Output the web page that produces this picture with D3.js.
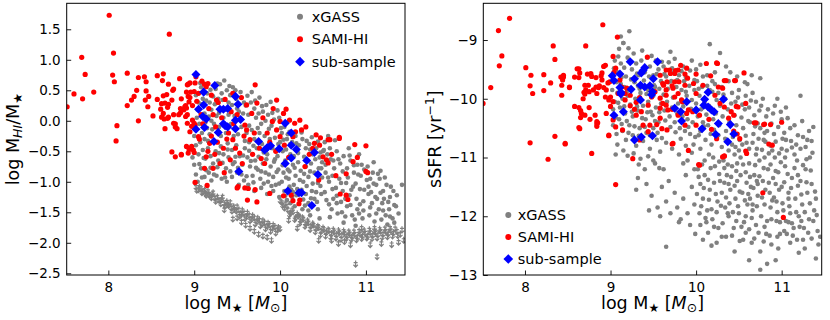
<!DOCTYPE html>
<html><head><meta charset="utf-8">
<script src="https://cdn.jsdelivr.net/npm/d3@7"></script>
<style>body{margin:0;background:#fff}text{font-family:"DejaVu Sans",sans-serif;fill:#000}</style>
</head><body><svg id="c" width="830" height="320"></svg>
<script>
const xTicks = [8, 9, 10, 11];
const gasTicks = [1.5, 1.0, 0.5, 0.0, -0.5, -1.0, -1.5, -2.0, -2.5];
const ssfrTicks = [-9, -10, -11, -12, -13];
const legendLabels = ["xGASS", "SAMI-HI", "sub-sample"];

// xGASS HI detections: [log M*, log MHI/M*]
const xgassGasDet = [
[9.02,0.42],[9.05,0.30],[9.08,0.55],[9.10,0.36],[9.12,0.12],[9.15,0.45],[9.18,0.30],[9.20,0.18],[9.22,0.40],[9.25,0.52],[9.28,0.36],[9.30,0.60],[9.32,0.45],[9.35,0.66],[9.38,0.50],[9.40,0.30],[9.42,0.42],[9.45,0.55],[9.48,0.50],[9.50,0.20],
[9.03,0.05],[9.06,-0.05],[9.09,-0.20],[9.12,-0.30],[9.15,-0.12],[9.18,-0.22],[9.20,0.00],[9.23,-0.05],[9.26,0.08],[9.29,-0.10],[9.31,-0.25],[9.34,0.05],[9.37,-0.20],[9.40,0.10],[9.43,-0.05],[9.46,-0.25],[9.49,-0.40],[9.52,0.15],[9.55,-0.10],[9.58,0.30],
[9.02,-0.40],[9.05,-0.55],[9.07,-0.35],[9.10,-0.48],[9.13,-0.62],[9.16,-0.45],[9.19,-0.58],[9.22,-0.70],[9.25,-0.50],[9.28,-0.65],[9.31,-0.42],[9.34,-0.55],[9.37,-0.78],[9.40,-0.60],[9.44,-0.48],[9.47,-0.68],[9.50,-0.85],[9.53,-0.58],[9.56,-0.72],[9.59,-0.45],
[9.02,-0.88],[9.04,-1.00],[9.08,-0.78],[9.12,-0.92],[9.17,-0.85],[9.20,-0.98],[9.26,-0.90],[9.32,-0.95],[9.38,-1.00],[9.44,-0.92],[9.52,-1.05],[9.58,-0.98],[9.00,-0.25],[8.98,-0.60],[9.00,-0.72],
[9.60,0.25],[9.63,0.10],[9.66,0.30],[9.70,0.20],[9.72,0.05],[9.75,0.12],[9.78,-0.05],[9.80,0.15],[9.83,0.00],[9.86,0.10],[9.90,-0.08],[9.93,0.02],[9.96,-0.15],[9.99,0.05],
[9.61,-0.20],[9.64,-0.35],[9.67,-0.15],[9.70,-0.30],[9.73,-0.45],[9.76,-0.20],[9.79,-0.38],[9.82,-0.25],[9.85,-0.55],[9.88,-0.30],[9.91,-0.45],[9.94,-0.28],[9.97,-0.58],[10.00,-0.35],
[9.62,-0.60],[9.65,-0.75],[9.68,-0.90],[9.71,-0.65],[9.74,-0.80],[9.77,-0.95],[9.80,-0.70],[9.83,-0.85],[9.86,-1.00],[9.89,-0.75],[9.92,-0.92],[9.95,-1.05],[9.98,-0.80],
[9.63,-1.05],[9.70,-1.15],[9.78,-1.10],[9.85,-1.20],[9.92,-1.15],[9.99,-1.25],
[10.02,-0.20],[10.05,-0.10],[10.08,-0.30],[10.11,-0.18],[10.14,-0.35],[10.18,-0.25],[10.22,-0.40],[10.26,-0.30],[10.30,-0.45],[10.34,-0.38],[10.38,-0.55],[10.42,-0.45],[10.46,-0.60],[10.50,-0.50],
[10.03,-0.50],[10.06,-0.65],[10.09,-0.80],[10.12,-0.55],[10.15,-0.72],[10.18,-0.90],[10.21,-0.68],[10.24,-0.82],[10.27,-1.00],[10.30,-0.75],[10.33,-0.92],[10.36,-0.70],[10.40,-0.85],[10.44,-1.02],[10.48,-0.78],
[10.02,-1.00],[10.05,-1.15],[10.08,-1.30],[10.11,-1.08],[10.14,-1.25],[10.17,-1.40],[10.20,-1.12],[10.23,-1.30],[10.26,-1.45],[10.30,-1.20],[10.33,-1.35],[10.37,-1.15],[10.40,-1.28],[10.44,-1.45],[10.48,-1.20],
[10.04,-0.85],[10.10,-0.95],[10.16,-1.05],[10.22,-1.55],[10.35,-1.55],[10.46,-1.60],
[10.52,-0.35],[10.55,-0.55],[10.58,-0.45],[10.62,-0.65],[10.66,-0.50],[10.70,-0.70],[10.74,-0.58],[10.78,-0.78],[10.82,-0.65],[10.86,-0.85],[10.90,-0.72],[10.94,-0.90],[10.98,-0.80],
[10.53,-0.85],[10.57,-1.00],[10.61,-0.90],[10.65,-1.10],[10.69,-0.95],[10.73,-1.15],[10.77,-1.02],[10.81,-1.22],[10.85,-1.08],[10.89,-1.28],[10.93,-1.12],[10.97,-1.32],
[10.54,-1.30],[10.60,-1.45],[10.66,-1.35],[10.72,-1.50],[10.78,-1.40],[10.84,-1.55],[10.90,-1.45],[10.96,-1.60],
[10.56,-0.25],[10.64,-0.32],[10.80,-0.45],[10.92,-0.55],
[11.02,-0.75],[11.05,-0.95],[11.08,-0.85],[11.12,-1.05],[11.16,-0.95],[11.20,-1.15],[11.24,-1.05],[11.28,-1.25],[11.32,-1.15],
[11.03,-1.20],[11.07,-1.35],[11.11,-1.25],[11.15,-1.45],[11.19,-1.35],[11.23,-1.55],[11.27,-1.45],[11.31,-1.60],[11.35,-1.40],[11.42,-1.05],
[11.04,-1.55],[11.10,-1.65],[11.18,-1.62],[11.25,-1.70],
[9.04,0.18],[9.07,0.62],[9.09,0.27],[9.13,-0.03],[9.14,0.33],[9.17,0.07],[9.19,0.51],[9.21,-0.14],[9.24,0.27],[9.27,0.61],[9.29,0.13],[9.33,0.34],[9.36,0.18],[9.39,-0.37],[9.41,0.57],[9.44,0.26],[9.47,0.08],[9.49,0.36],[9.51,-0.22],[9.54,0.47],[9.57,0.12],[9.59,-0.33],[9.62,0.41],[9.64,-0.08],[9.67,0.47],[9.69,-0.41],[9.71,0.33],[9.74,-0.12],[9.76,0.38],[9.79,0.24],[9.81,-0.52],[9.84,0.26],[9.87,-0.13],[9.89,0.31],[9.91,0.13],[9.94,-0.63],[9.97,0.17],[9.98,-0.38],
[9.06,-0.71],[9.09,-0.93],[9.11,-0.61],[9.14,-0.81],[9.16,-0.33],[9.19,-0.77],[9.23,-0.88],[9.27,-0.76],[9.29,-0.53],[9.33,-0.69],[9.36,-0.93],[9.39,-0.47],[9.42,-0.83],[9.45,-0.71],[9.48,-0.59],[9.51,-0.77],[9.55,-0.88],[9.57,-0.57],[9.61,-0.91],[9.64,-0.49],[9.66,-0.66],[9.69,-1.01],[9.72,-0.77],[9.75,-0.59],[9.78,-0.83],[9.81,-1.03],[9.84,-0.63],[9.87,-0.88],[9.90,-1.07],[9.93,-0.67],[9.96,-0.84],[9.99,-1.03],
[10.01,-0.12],[10.04,-0.31],[10.07,-0.47],[10.09,-0.22],[10.12,-0.38],[10.16,-0.58],[10.19,-0.37],[10.21,-0.53],[10.25,-0.19],[10.28,-0.59],[10.31,-0.33],[10.35,-0.47],[10.37,-0.27],[10.41,-0.63],[10.44,-0.34],[10.47,-0.52],[10.49,-0.68],
[10.03,-0.73],[10.07,-0.93],[10.11,-0.83],[10.13,-1.13],[10.17,-0.77],[10.19,-1.22],[10.23,-0.97],[10.25,-1.13],[10.28,-0.87],[10.31,-1.07],[10.35,-0.83],[10.38,-1.03],[10.42,-1.17],[10.45,-0.78],[10.49,-0.93],[10.06,-1.23],[10.15,-1.17],[10.27,-1.29],[10.36,-1.27],[10.43,-1.33],[10.47,-1.07],[10.33,-1.47],[10.29,-1.39],[10.12,-1.35],
[10.51,-0.48],[10.53,-0.72],[10.56,-0.93],[10.59,-0.63],[10.61,-1.12],[10.63,-0.78],[10.66,-1.23],[10.68,-0.63],[10.71,-1.02],[10.73,-0.83],[10.76,-1.28],[10.79,-0.93],[10.81,-0.57],[10.83,-1.13],[10.86,-0.73],[10.88,-1.03],[10.91,-0.88],[10.93,-1.37],[10.95,-0.72],[10.98,-1.13],
[10.52,-1.17],[10.57,-1.37],[10.62,-1.28],[10.67,-1.52],[10.71,-1.33],[10.76,-1.57],[10.82,-1.38],[10.87,-1.62],[10.92,-1.52],[10.97,-1.47],[10.58,-1.58],[10.74,-1.67],[10.88,-1.72],
[11.01,-0.97],[11.03,-1.08],[11.06,-1.17],[11.09,-1.03],[11.13,-1.28],[11.14,-0.87],[11.17,-1.18],[11.21,-1.28],[11.22,-0.93],[11.26,-1.33],[11.29,-1.08],[11.33,-1.38],[11.36,-1.22],[11.38,-1.52],[11.05,-1.42],[11.12,-1.52],[11.20,-1.47],[11.28,-1.57],[11.33,-1.67],[11.09,-0.68],[11.17,-0.82]
];

// xGASS HI upper limits
const xgassGasLim = [
[9.02,-1.08],[9.05,-1.12],[9.08,-1.10],[9.10,-1.15],[9.13,-1.18],[9.16,-1.15],[9.18,-1.22],[9.21,-1.20],[9.24,-1.26],[9.27,-1.24],[9.30,-1.30],[9.32,-1.28],[9.35,-1.35],[9.38,-1.32],[9.40,-1.38],[9.43,-1.42],[9.46,-1.40],[9.49,-1.47],[9.52,-1.45],[9.55,-1.52],[9.58,-1.50],[9.61,-1.56],[9.64,-1.54],[9.67,-1.60],[9.70,-1.58],[9.73,-1.64],[9.76,-1.62],[9.79,-1.68],[9.82,-1.66],[9.85,-1.72],[9.88,-1.70],[9.91,-1.75],[9.94,-1.73],[9.97,-1.78],[10.00,-1.76],[9.60,-1.70],[9.70,-1.80],[9.80,-1.88],[9.35,-1.45],[9.50,-1.58],
[9.03,-1.13],[9.06,-1.08],[9.09,-1.17],[9.12,-1.13],[9.14,-1.21],[9.17,-1.19],[9.20,-1.25],[9.22,-1.17],[9.25,-1.31],[9.28,-1.29],[9.31,-1.35],[9.33,-1.24],[9.36,-1.39],[9.39,-1.36],[9.42,-1.33],[9.44,-1.47],[9.47,-1.44],[9.50,-1.40],[9.53,-1.55],[9.56,-1.46],[9.59,-1.59],[9.62,-1.50],[9.65,-1.63],[9.68,-1.55],[9.71,-1.68],[9.74,-1.59],[9.77,-1.71],[9.80,-1.63],[9.83,-1.76],[9.86,-1.67],[9.89,-1.80],[9.92,-1.70],[9.95,-1.83],[9.98,-1.74],[9.55,-1.65],[9.65,-1.75],[9.75,-1.85],[9.45,-1.60],[9.85,-1.90],
[10.00,-1.30],[10.03,-1.38],[10.06,-1.35],[10.09,-1.45],[10.12,-1.50],[10.15,-1.48],[10.18,-1.58],[10.21,-1.55],[10.24,-1.63],[10.27,-1.60],[10.30,-1.68],[10.33,-1.66],[10.36,-1.72],[10.39,-1.70],[10.42,-1.76],[10.45,-1.74],[10.48,-1.80],[10.51,-1.77],[10.54,-1.82],[10.57,-1.79],[10.60,-1.84],[10.63,-1.81],[10.66,-1.86],[10.69,-1.82],[10.72,-1.87],[10.75,-1.83],[10.78,-1.88],[10.81,-1.84],[10.84,-1.89],[10.87,-1.85],[10.90,-1.90],[10.93,-1.84],[10.96,-1.88],[10.99,-1.83],[11.02,-1.88],[11.05,-1.82],[11.08,-1.87],[11.11,-1.82],[11.14,-1.86],[11.17,-1.80],[11.20,-1.85],[11.23,-1.80],[11.26,-1.84],[11.29,-1.79],[11.32,-1.83],[11.36,-1.80],[11.40,-1.85],[11.44,-1.95],
[10.02,-1.33],[10.05,-1.42],[10.08,-1.39],[10.11,-1.53],[10.14,-1.45],[10.17,-1.61],[10.20,-1.52],[10.23,-1.67],[10.26,-1.58],[10.29,-1.72],[10.32,-1.63],[10.35,-1.77],[10.38,-1.68],[10.41,-1.81],[10.44,-1.72],[10.47,-1.86],[10.50,-1.75],[10.53,-1.88],[10.56,-1.78],[10.59,-1.90],[10.62,-1.78],[10.65,-1.91],[10.68,-1.79],[10.71,-1.93],[10.74,-1.80],[10.77,-1.92],[10.80,-1.81],[10.83,-1.93],[10.86,-1.81],[10.89,-1.94],[10.92,-1.80],[10.95,-1.92],[10.98,-1.79],[11.01,-1.91],[11.04,-1.78],[11.07,-1.92],[11.10,-1.79],[11.13,-1.91],[11.16,-1.77],[11.19,-1.90],[11.22,-1.76],[11.25,-1.89],[11.28,-1.75],[11.31,-1.88],[11.34,-1.76],[11.37,-1.87],[11.42,-1.78],[11.38,-1.98],[11.18,-2.00],[11.05,-2.02],[10.82,-2.02],[10.68,-2.00],
[10.20,-1.75],[10.45,-1.95],[10.60,-1.95],[10.75,-1.97],[10.88,-2.34],[11.13,-2.22],[11.30,-2.02],[10.95,-1.75],[11.10,-1.75],[10.10,-1.62],[9.90,-1.95]
];

// SAMI-HI: [log M*, log MHI/M*]
const samiGas = [
[8.01,1.73],[8.71,1.42],[8.06,1.11],[7.69,1.04],[7.73,0.76],[8.05,0.75],[8.07,0.64],[7.60,0.44],[7.70,0.36],[7.83,0.47],[7.52,0.23],[8.10,-0.08],[8.09,-0.33],
[8.22,0.78],[8.35,0.71],[8.42,0.72],[8.44,0.64],[8.33,0.50],[8.44,0.49],[8.30,0.40],[8.27,0.34],[8.47,0.40],[8.43,0.34],[8.22,0.25],[8.46,0.23],[8.35,0.00],[8.52,0.08],
[8.57,0.74],[8.64,0.77],[8.63,0.66],[8.70,0.60],[8.83,0.69],[8.57,0.35],[8.64,0.41],[8.68,0.43],[8.75,0.50],[8.62,0.28],[8.66,0.29],[8.70,0.27],[8.61,0.19],[8.64,0.12],[8.62,0.06],[8.65,0.03],[8.70,0.06],[8.66,-0.13],[8.76,0.10],[8.76,-0.04],[8.78,-0.10],[8.80,-0.13],[8.82,0.10],[8.84,0.20],[8.88,0.18],[8.90,0.25],[8.94,0.31],[8.93,0.40],[8.96,0.47],[8.92,0.59],[8.95,0.62],[8.90,0.07],[8.92,-0.04],[8.98,0.01],[8.78,-0.59],[8.85,-0.55],[8.74,-0.51],
[8.76,0.52],[9.02,0.72],[9.09,0.65],[9.12,0.60],[9.01,0.62],[9.14,0.56],[9.00,0.48],[8.91,0.47],[8.85,0.36],[8.95,0.38],[9.03,0.32],[8.98,0.25],[8.74,0.34],[8.69,0.22],[8.91,0.21],[8.84,0.13],[8.69,0.04],[8.78,-0.05],[8.97,-0.09],[9.00,-0.04],
[8.97,-0.42],[8.94,-0.47],[9.00,-0.52],[8.93,-0.53],[9.01,-1.01],[9.15,-1.06],
[8.93,0.60],[8.89,0.23],[8.92,0.10],[9.01,-0.07],[8.95,-0.18],[9.05,-0.26],[8.91,-0.42],[8.99,-0.48],[8.85,-0.56],
[9.16,0.61],[9.20,0.42],[9.26,0.34],[9.45,0.45],[9.61,0.26],[9.71,0.59],[9.73,0.29],[9.67,0.12],[9.59,-0.07],[9.61,-0.15],[9.65,-0.31],[9.45,-0.31],[9.18,-0.37],[9.34,-0.45],[9.53,-0.53],[9.42,-0.64],[9.30,-0.70],[9.12,-0.78],[9.96,0.34],[9.91,-0.01],[10.00,-0.01],[10.11,0.01],[10.17,-0.04],[10.23,0.01],[10.25,-0.15],[10.15,-0.26],[10.42,-0.23],[10.46,-0.40],[10.56,-0.31],[10.69,-0.29],[10.38,-0.45],[10.50,-0.59],[10.54,-0.64],[10.29,-0.75],[10.85,-0.67],[11.00,-0.83],[10.77,-1.22],[10.23,-1.30],[10.13,-1.22],[9.88,-1.19],[9.71,-1.13],[9.63,-1.11],[9.51,-1.08],[9.73,-1.33],[9.22,-0.78],[9.14,-0.59],[9.82,-0.70],[10.00,-0.26],[9.96,-0.15],[10.04,0.12],[10.07,0.19],
[10.69,-0.27],[10.87,-0.39],[11.00,-0.41],[10.47,-0.28],[10.58,-0.31],[10.40,-0.37],[10.56,-0.69],[10.45,-0.97],[10.77,-0.87],[11.02,-0.85],[10.70,-1.20],[10.79,-1.29],[10.04,-1.23],[10.15,-1.31],[10.22,-1.36],[9.62,-1.30],[9.59,-1.10],[9.50,-1.10],
[9.05,0.45],[9.08,0.10],[9.10,-0.05],[9.17,0.20],[9.22,0.10],[9.25,-0.10],[9.28,0.30],[9.32,0.05],[9.36,0.35],[9.40,-0.20],[9.43,0.15],[9.46,-0.05],[9.50,0.10],[9.55,0.38],[9.58,-0.25],[9.20,-0.25],[9.06,-0.30],[9.27,-0.35],[9.38,-0.30],[9.16,-0.50],[9.24,-0.55],[9.48,-0.45],[9.56,-0.70],[9.35,-0.85],[9.70,-0.20],[9.76,-0.45],[9.80,0.05],[9.85,-0.20],[9.88,-0.35],[9.92,0.20],[9.68,-0.55],[9.78,-0.62],[9.95,-0.50],[10.05,-0.40],[10.10,-0.60],[10.18,-0.18],[10.30,-0.10],[10.34,-0.55],[10.60,-0.55],[10.65,-0.90],[10.90,-0.60]
];

// sub-sample: [log M*, log MHI/M*]
const subGas = [
[9.02,0.76],[9.11,0.47],[9.24,0.58],[9.05,0.19],[9.11,0.26],[9.10,0.07],[9.14,0.03],[9.02,-0.14],[9.12,-0.11],[9.23,-0.34],[9.28,-0.19],[9.30,0.19],[9.34,0.19],[9.39,0.20],[9.36,-0.08],[9.34,-0.05],[9.39,-0.10],[9.48,0.40],[9.51,0.27],[9.48,0.01],[9.48,-0.13],[9.54,0.02],[9.52,-0.83],[9.75,-0.34],[9.82,-0.48],[9.85,-0.44],[9.89,-0.41],[9.99,-0.46],[10.06,-0.04],[10.13,-0.20],[10.13,-0.40],[10.19,-0.47],[10.06,-0.70],[10.13,-0.61],[10.31,-0.65],[10.40,-0.52],[10.44,-0.88],[10.09,-1.15],[10.22,-1.18],[10.25,-1.18],[10.37,-1.39]
];

// xGASS: [log M*, sSFR]
const xgassSSFR = [
[9.05,-9.35],[9.08,-9.55],[9.10,-9.15],[9.12,-9.40],[9.15,-9.05],[9.18,-9.62],[9.20,-9.30],[9.22,-8.85],[9.25,-9.50],[9.28,-9.72],[9.30,-9.40],[9.33,-9.60],[9.36,-9.35],[9.40,-9.55],[9.43,-9.30],[9.46,-9.45],[9.50,-9.60],[9.53,-9.35],[9.56,-9.50],[9.59,-9.70],[9.12,-8.94],[9.15,-9.05],
[9.02,-9.85],[9.05,-10.05],[9.08,-9.90],[9.11,-10.15],[9.14,-10.00],[9.17,-10.25],[9.20,-9.95],[9.23,-10.10],[9.26,-10.30],[9.29,-10.00],[9.32,-10.20],[9.35,-9.90],[9.38,-10.12],[9.41,-10.35],[9.44,-10.05],[9.47,-10.22],[9.50,-9.95],[9.53,-10.15],[9.56,-10.40],[9.59,-10.08],
[9.03,-10.45],[9.07,-10.60],[9.10,-10.35],[9.14,-10.55],[9.18,-10.70],[9.22,-10.45],[9.26,-10.62],[9.30,-10.80],[9.34,-10.50],[9.38,-10.72],[9.42,-10.58],[9.46,-10.85],[9.50,-10.50],[9.54,-10.70],[9.58,-10.90],[9.06,-10.95],[9.12,-9.75],[9.16,-9.80],[9.24,-9.82],[9.32,-9.78],[9.44,-9.85],[9.52,-9.80],
[9.32,-11.35],[9.30,-11.55],[9.42,-11.45],[9.48,-11.65],[9.55,-11.85],[9.60,-11.50],[9.65,-11.75],[9.70,-11.95],[9.68,-11.40],[9.75,-11.60],[9.78,-11.85],[9.82,-12.05],[9.85,-11.70],[9.88,-11.30],[9.90,-11.95],[9.93,-12.15],[9.95,-11.50],[9.98,-11.80],[9.65,-12.52],[9.80,-12.10],[9.62,-11.20],[9.52,-11.10],[9.45,-11.90],[9.58,-12.00],[9.90,-11.05],[9.40,-11.20],[9.85,-11.10],[9.98,-11.20],
[9.62,-9.45],[9.65,-9.62],[9.68,-9.38],[9.71,-9.70],[9.74,-9.55],[9.77,-9.80],[9.80,-9.60],[9.83,-9.85],[9.86,-9.70],[9.89,-9.95],[9.92,-9.78],[9.95,-10.02],[9.98,-9.85],[10.01,-9.70],[10.04,-9.95],[10.07,-9.80],[10.10,-10.05],[10.13,-9.60],[10.16,-9.85],[10.19,-9.70],
[9.63,-10.20],[9.66,-10.05],[9.69,-10.30],[9.72,-10.15],[9.75,-10.40],[9.78,-10.25],[9.81,-10.50],[9.84,-10.30],[9.87,-10.55],[9.90,-10.35],[9.93,-10.60],[9.96,-10.40],[9.99,-10.65],[10.02,-10.30],[10.05,-10.55],[10.08,-10.40],[10.11,-10.70],[10.14,-10.45],[10.17,-10.60],[10.20,-10.35],
[9.65,-10.75],[9.72,-10.85],[9.80,-10.95],[9.88,-10.80],[9.95,-10.92],[10.05,-10.85],[10.15,-10.95],[9.70,-9.20],[9.85,-9.45],[10.16,-9.07],[10.28,-9.22],[10.00,-9.50],
[10.22,-9.75],[10.26,-9.90],[10.30,-9.80],[10.34,-10.00],[10.38,-9.70],[10.42,-9.90],[10.46,-10.05],[10.50,-9.85],[10.54,-10.10],[10.58,-9.95],[10.62,-10.15],[10.66,-9.90],[10.70,-10.05],[10.74,-10.20],[10.78,-10.00],[10.82,-10.30],
[10.23,-10.25],[10.27,-10.45],[10.31,-10.30],[10.35,-10.55],[10.39,-10.40],[10.43,-10.65],[10.47,-10.45],[10.51,-10.70],[10.55,-10.50],[10.59,-10.75],[10.63,-10.40],[10.67,-10.60],[10.71,-10.85],[10.75,-10.50],[10.79,-10.70],[10.83,-10.55],[10.87,-10.80],[10.91,-10.60],
[10.40,-9.55],[10.60,-9.75],[10.75,-9.65],[10.95,-10.00],[10.90,-10.25],[11.00,-10.35],[11.05,-10.15],[11.10,-10.50],[11.22,-9.95],[11.37,-10.48],
[10.02,-11.20],[10.05,-11.45],[10.08,-11.70],[10.10,-11.30],[10.13,-11.90],[10.16,-11.55],[10.19,-12.05],[10.22,-11.15],[10.25,-11.75],[10.28,-11.40],[10.04,-11.95],[10.12,-12.10],[10.20,-11.00],[10.26,-12.20],[10.30,-11.60],[10.24,-12.45],[10.10,-11.05],
[10.32,-11.05],[10.34,-11.85],[10.36,-11.30],[10.38,-12.00],[10.40,-11.55],[10.42,-11.15],[10.44,-12.20],[10.46,-11.70],[10.48,-11.40],[10.50,-11.95],[10.52,-11.00],[10.54,-11.60],[10.56,-12.10],[10.58,-11.25],[10.60,-11.80],[10.35,-12.35],[10.45,-10.95],[10.55,-12.40],[10.48,-11.10],[10.38,-11.45],[10.52,-11.30],[10.58,-12.00],
[10.62,-11.10],[10.64,-11.50],[10.66,-11.90],[10.68,-11.30],[10.70,-12.15],[10.72,-11.65],[10.74,-11.05],[10.76,-12.00],[10.78,-11.40],[10.80,-11.80],[10.82,-12.30],[10.84,-11.20],[10.86,-11.60],[10.88,-12.05],[10.90,-11.35],[10.65,-12.45],[10.75,-12.60],[10.83,-12.81],[10.75,-12.91],[10.70,-10.95],[10.80,-11.00],[10.63,-11.70],[10.87,-11.85],[10.72,-11.45],
[10.92,-11.00],[10.94,-11.75],[10.96,-11.25],[10.98,-12.10],[11.00,-11.50],[11.02,-11.90],[11.04,-11.15],[11.06,-12.30],[11.08,-11.60],[11.10,-11.95],[11.12,-11.35],[11.14,-12.20],[11.16,-11.70],[11.18,-11.05],[11.20,-12.00],[11.00,-10.85],[11.05,-10.70],[11.10,-12.45],[10.95,-12.35],[11.15,-10.95],[11.08,-12.10],[10.93,-11.45],
[11.22,-11.40],[11.24,-11.80],[11.26,-12.20],[11.28,-11.20],[11.30,-11.60],[11.32,-12.05],[11.35,-11.45],[11.38,-11.90],[11.42,-12.25],[11.45,-12.35],[11.25,-12.40],[11.33,-11.00],[11.22,-10.85],[11.30,-10.70],[11.40,-11.70],
[9.04,-9.48],[9.07,-9.72],[9.09,-9.28],[9.13,-9.63],[9.16,-9.47],[9.19,-9.88],[9.21,-9.14],[9.24,-9.67],[9.27,-9.23],[9.31,-9.57],[9.34,-9.83],[9.37,-9.18],[9.39,-9.69],[9.42,-9.92],[9.45,-9.62],[9.48,-9.27],[9.51,-9.77],[9.54,-9.58],[9.57,-9.83],[9.60,-9.37],
[9.03,-10.18],[9.06,-10.32],[9.09,-10.07],[9.13,-10.43],[9.16,-10.13],[9.19,-10.38],[9.21,-10.58],[9.25,-10.22],[9.28,-10.47],[9.31,-10.13],[9.33,-10.63],[9.37,-10.33],[9.40,-10.48],[9.43,-10.23],[9.46,-10.62],[9.49,-10.28],[9.52,-10.38],[9.55,-10.58],[9.57,-10.23],[9.60,-10.67],
[9.08,-10.78],[9.15,-10.88],[9.20,-10.97],[9.27,-10.93],[9.35,-11.02],[9.44,-10.98],[9.50,-11.05],[9.57,-11.18],[9.33,-11.12],
[9.62,-9.93],[9.64,-10.37],[9.67,-9.83],[9.70,-10.48],[9.73,-9.98],[9.76,-10.57],[9.79,-10.08],[9.82,-10.68],[9.85,-10.13],[9.88,-9.88],[9.91,-10.48],[9.94,-10.17],[9.97,-10.78],[10.00,-10.08],[10.03,-10.62],[10.06,-10.18],[10.09,-10.47],[10.12,-10.27],[10.15,-10.12],[10.18,-10.78],[10.21,-10.53],
[9.63,-9.58],[9.68,-9.72],[9.72,-9.48],[9.78,-9.68],[9.83,-9.53],[9.88,-9.63],[9.93,-9.52],[9.98,-9.68],[10.03,-9.83],[10.08,-9.62],[10.13,-9.78],[10.19,-9.88],[9.75,-9.32],[9.95,-9.35],[10.05,-9.42],[10.22,-9.55],[10.35,-9.45],[10.48,-9.62],[10.65,-9.60],[10.57,-9.72],
[10.24,-10.02],[10.28,-10.12],[10.32,-9.93],[10.37,-10.18],[10.41,-10.08],[10.45,-10.28],[10.49,-9.98],[10.53,-10.32],[10.57,-10.18],[10.61,-10.38],[10.64,-10.03],[10.68,-10.28],[10.72,-10.42],[10.76,-10.12],[10.80,-10.58],[10.84,-10.18],[10.88,-10.42],[10.92,-10.12],[10.96,-10.48],[10.99,-10.22],[11.03,-10.58],[11.07,-10.33],[11.11,-10.72],[11.15,-10.45],[11.19,-10.62],[11.24,-10.38],[11.28,-10.82],[11.32,-10.55],[11.36,-10.92],
[10.26,-10.62],[10.30,-10.82],[10.34,-10.68],[10.38,-10.88],[10.42,-10.78],[10.46,-10.82],[10.50,-10.88],[10.54,-10.78],[10.58,-10.63],[10.62,-10.85],[10.66,-10.75],[10.69,-10.47],[10.73,-10.68],[10.77,-10.87],[10.81,-10.73],[10.85,-10.93],[10.89,-10.88],[10.93,-10.73],[10.97,-10.93],[11.01,-10.68],[11.06,-10.88],[11.12,-10.83],[11.17,-10.78],[11.25,-10.65],[11.35,-10.72],
[10.01,-11.62],[10.03,-11.33],[10.06,-11.83],[10.07,-11.12],[10.09,-11.52],[10.11,-12.03],[10.14,-11.38],[10.15,-11.72],[10.17,-11.18],[10.18,-11.88],[10.21,-11.43],[10.23,-11.62],[10.24,-11.93],[10.27,-11.28],[10.29,-11.82],[10.31,-12.12],[10.27,-11.07],[10.14,-12.28],[10.21,-12.18],[10.05,-12.15],[10.30,-12.35],
[10.33,-11.43],[10.35,-11.68],[10.37,-11.12],[10.39,-11.78],[10.41,-11.33],[10.43,-11.93],[10.45,-11.48],[10.47,-11.23],[10.49,-11.83],[10.51,-11.58],[10.53,-12.18],[10.55,-11.12],[10.57,-11.73],[10.59,-11.43],[10.42,-12.33],[10.47,-12.08],[10.37,-11.95],[10.51,-12.42],[10.58,-12.28],[10.33,-11.18],
[10.61,-11.62],[10.63,-11.33],[10.65,-12.03],[10.67,-11.52],[10.69,-11.13],[10.71,-11.83],[10.73,-12.28],[10.74,-11.32],[10.77,-11.68],[10.79,-11.18],[10.81,-11.55],[10.83,-12.08],[10.85,-11.43],[10.87,-11.12],[10.89,-11.73],[10.68,-12.38],[10.79,-12.43],[10.86,-12.33],[10.62,-12.22],[10.71,-11.40],[10.80,-12.18],[10.88,-12.48],[10.66,-11.80],
[10.91,-11.68],[10.93,-11.23],[10.95,-11.93],[10.97,-11.55],[10.99,-11.08],[11.01,-11.78],[11.03,-11.42],[11.05,-12.08],[11.07,-11.28],[11.09,-11.83],[11.11,-11.52],[11.13,-12.33],[11.15,-11.18],[11.17,-11.93],[11.19,-11.48],[11.21,-12.18],[10.96,-12.55],[11.03,-12.25],[11.12,-12.12],[11.18,-12.40],[11.04,-11.00],[11.19,-11.30],[10.98,-12.30],[11.08,-11.70],[10.94,-12.08],
[11.23,-11.63],[11.25,-11.13],[11.27,-11.93],[11.29,-11.42],[11.31,-12.28],[11.33,-11.78],[11.34,-11.22],[11.37,-12.08],[11.39,-11.58],[11.41,-11.98],[11.43,-12.48],[11.27,-12.55],[11.35,-12.38],[11.23,-12.08],[11.40,-12.72],[11.29,-11.03],
[9.99,-12.30],[10.08,-12.40],[10.18,-12.50],[10.45,-12.60],[10.62,-12.75],[10.93,-12.75],[11.20,-12.62]
];

// SAMI-HI: [log M*, sSFR]
const samiSSFR = [
[7.82,-8.63],[7.69,-8.84],[7.73,-9.27],[7.70,-9.44],[7.60,-9.81],[7.51,-10.08],[8.01,-9.47],[8.07,-9.60],[8.06,-9.78],[8.09,-9.91],[8.22,-9.59],[8.22,-9.86],[8.30,-9.73],[8.33,-9.10],[8.35,-9.33],[8.42,-9.63],[8.45,-9.60],[8.44,-9.68],[8.43,-9.77],[8.43,-9.94],[8.52,-9.81],[8.06,-10.75],[8.35,-10.64],[8.47,-10.77],[8.27,-11.03],[8.63,-9.49],[8.64,-9.56],[8.58,-9.63],[8.71,-9.10],[8.77,-9.57],[8.70,-9.77],[8.74,-9.77],[8.71,-9.85],[8.70,-9.92],[8.68,-10.00],[8.58,-10.13],[8.63,-10.15],[8.65,-10.20],[8.66,-10.25],[8.65,-10.32],[8.70,-10.28],[8.75,-10.15],[8.76,-10.35],[8.63,-10.49],[8.84,-10.47],[8.85,-10.41],[8.78,-10.93],[8.91,-8.74],[8.83,-9.64],[8.89,-9.61],[8.92,-9.45],[8.94,-9.43],[8.90,-9.56],[8.86,-9.81],[8.92,-9.81],[8.97,-9.73],[8.95,-9.85],[9.00,-9.97],[8.94,-9.97],[8.98,-10.02],[9.03,-10.05],[9.00,-10.13],[8.95,-10.25],[9.03,-10.36],[9.06,-10.48],[8.98,-10.62],[9.03,-9.28],[9.08,-8.95],[9.26,-11.02],[9.06,-11.46],[10.78,-11.60],[11.02,-12.02],[11.00,-10.40],[10.85,-10.77],[10.89,-10.79],[10.87,-10.44],[10.79,-10.44],[10.68,-10.41],[10.58,-10.89],[10.59,-10.93],[10.56,-9.56],[10.46,-9.69],[10.44,-10.28],[10.47,-10.13],[10.33,-9.69],[10.24,-9.39],[10.33,-10.97],[10.12,-9.40],[10.03,-11.12],[9.91,-10.88],[9.72,-10.77],[9.60,-10.51],[9.69,-9.51],[9.70,-9.57],
[9.43,-9.29],[8.45,-9.63],[8.52,-9.80],[8.61,-9.49],[8.63,-9.64],[8.73,-9.58],[8.78,-9.62],[8.83,-9.80],[8.87,-9.78],[8.90,-9.68],[8.99,-9.71],[9.04,-9.55],[9.06,-9.48],[8.69,-9.89],[8.75,-9.88],[8.80,-9.85],[8.84,-9.91],[8.82,-10.28],[8.84,-10.39],[8.64,-10.51],[8.84,-10.43],[8.98,-10.63],[9.14,-10.53],[8.47,-10.76],
[9.17,-10.02],[9.23,-10.12],[9.28,-10.18],[9.30,-10.06],[9.34,-9.98],[9.44,-10.11],[9.48,-9.97],[9.52,-9.88],[9.58,-9.99],[9.62,-9.77],[9.66,-9.71],[9.58,-9.60],[9.11,-9.68],[9.13,-9.80],[9.19,-9.82],[9.09,-9.91],[9.17,-9.91],[9.23,-9.94],[9.30,-10.28],[9.36,-10.22],[9.38,-10.45],[9.46,-10.45],[9.54,-10.44],[9.34,-10.70],[9.44,-10.56],
[9.65,-9.51],[9.75,-9.57],[9.79,-9.51],[9.82,-9.43],[9.89,-9.48],[9.90,-9.65],[9.87,-9.77],[9.80,-9.71],[9.75,-9.71],[9.73,-9.82],[9.75,-9.97],[9.65,-9.94],[9.65,-10.11],[9.58,-10.16],[9.58,-10.33],[9.72,-10.18],[9.79,-10.28],[9.84,-10.05],[9.91,-10.19],[9.87,-10.45],[9.73,-10.76],
[10.25,-9.40],[10.17,-9.61],[10.08,-9.77],[10.00,-9.58],[9.87,-9.58],[9.76,-9.52],[9.61,-9.74],[9.65,-9.85],[9.72,-9.78],[9.79,-9.91],[9.83,-10.02],[9.97,-9.74],[10.00,-9.91],[10.35,-9.69],[10.45,-9.69],[10.58,-10.08],[10.49,-10.14],[10.41,-10.22],[10.38,-10.33],[10.33,-10.14],[10.28,-10.08],[10.22,-9.94],[10.26,-9.80],[10.31,-9.82],[10.70,-10.41],[10.80,-10.43],[10.51,-10.68],[10.31,-10.99],[9.66,-10.53],[9.61,-10.08],[9.67,-10.19],[10.15,-10.35],[10.18,-10.52],[10.04,-10.28],[9.96,-10.22],[9.89,-10.25],[10.00,-10.45],[10.24,-10.68],[10.44,-10.55],[10.48,-10.60],[10.04,-11.13],[10.33,-10.98]
];

// sub-sample: [log M*, sSFR]
const subSSFR = [
[9.23,-9.37],[9.55,-9.37],[9.02,-9.61],[9.04,-9.69],[9.11,-9.58],[9.11,-9.81],[9.12,-9.89],[9.12,-9.92],[9.24,-9.84],[9.28,-9.66],[9.36,-9.56],[9.40,-9.47],[9.38,-9.52],[9.35,-9.77],[9.40,-9.80],[9.46,-9.78],[9.49,-9.88],[9.50,-9.66],[9.48,-9.93],[9.35,-10.02],[9.04,-10.28],[9.15,-10.22],[9.28,-10.70],[9.36,-10.65],[9.49,-10.63],[9.75,-10.16],[9.82,-10.22],[9.83,-10.38],[9.89,-10.05],[10.00,-10.19],[10.07,-10.51],[10.09,-10.11],[10.10,-10.01],[10.14,-9.89],[10.14,-10.14],[10.18,-10.19],[10.21,-10.22],[10.32,-10.01],[10.23,-10.61],[10.26,-10.42],[10.40,-10.44],[10.44,-10.60],[10.37,-10.73]
];

const GREY = "#808080", RED = "#ff0000", BLUE = "#0000ff";
const svg = d3.select("#c");
const fmt = v => (v < 0 ? "\u2212" : "") + Math.abs(v).toFixed(1);
const fmtI = v => (v < 0 ? "\u2212" : "") + Math.abs(v);

function drawPanel(o) {
  const x = d3.scaleLinear().domain(o.xd).range([o.x0, o.x1]);
  const y = d3.scaleLinear().domain(o.yd).range([o.y1, o.y0]);
  const g = svg.append("g");
  const cid = "clip" + o.id;
  svg.append("clipPath").attr("id", cid).append("rect")
    .attr("x", o.x0).attr("y", o.y0).attr("width", o.x1 - o.x0).attr("height", o.y1 - o.y0);
  const pts = g.append("g").attr("clip-path", `url(#${cid})`);
  if (o.lim) {
    pts.append("g").selectAll("path").data(o.lim).join("path")
      .attr("transform", d => `translate(${x(d[0])},${y(d[1])})`)
      .attr("d", "M0,-3V3.5M-2.2,1.2L0,3.5L2.2,1.2M-2,-1H2")
      .attr("fill", "none").attr("stroke", GREY).attr("stroke-width", 1.2);
  }
  pts.append("g").selectAll("circle").data(o.grey).join("circle")
    .attr("cx", d => x(d[0])).attr("cy", d => y(d[1])).attr("r", 2.3).attr("fill", GREY);
  pts.append("g").selectAll("circle").data(o.red).join("circle")
    .attr("cx", d => x(d[0])).attr("cy", d => y(d[1])).attr("r", 2.6).attr("fill", RED);
  const diamond = d3.symbol().type(d3.symbolDiamond2).size(52);
  pts.append("g").selectAll("path").data(o.blue).join("path")
    .attr("transform", d => `translate(${x(d[0])},${y(d[1])})`)
    .attr("d", diamond).attr("fill", BLUE);

  const xa = d3.axisBottom(x).tickValues(xTicks).tickSize(-4.5).tickPadding(7).tickFormat(d3.format("d"));
  const ya = d3.axisLeft(y).tickValues(o.yt).tickSize(-4.5).tickPadding(6).tickFormat(o.yf);
  const gx = g.append("g").attr("transform", `translate(0,${o.y1})`).call(xa);
  const gy = g.append("g").attr("transform", `translate(${o.x0},0)`).call(ya);
  [gx, gy].forEach(a => {
    a.select(".domain").remove();
    a.selectAll("line").attr("stroke", "#000").attr("stroke-width", 0.9);
    a.selectAll("text").attr("font-size", 13.5).attr("font-family", "DejaVu Sans").attr("fill", "#000");
  });
  g.append("rect").attr("x", o.x0).attr("y", o.y0).attr("width", o.x1 - o.x0).attr("height", o.y1 - o.y0)
    .attr("fill", "none").attr("stroke", "#000").attr("stroke-width", 1);

  const xl = g.append("text").attr("x", (o.x0 + o.x1) / 2).attr("y", 309).attr("text-anchor", "middle").attr("font-size", 17.5);
  xl.append("tspan").text("log M");
  xl.append("tspan").text("\u2605").attr("font-size", 12).attr("dy", 3);
  xl.append("tspan").text(" [").attr("dy", -3);
  xl.append("tspan").text("M").attr("font-style", "italic");
  xl.append("tspan").text("\u2299").attr("font-size", 12.5).attr("dy", 3);
  xl.append("tspan").text("]").attr("dy", -3);

  const yl = g.append("text").attr("transform", `translate(${o.ylx},${(o.y0 + o.y1) / 2}) rotate(-90)`)
    .attr("text-anchor", "middle").attr("font-size", 17.5);
  o.ylab(yl);

  const lg = g.append("g");
  legendLabels.forEach((lab, i) => {
    const ly = o.ly + i * o.lsp;
    if (i < 2) lg.append("circle").attr("cx", o.lx).attr("cy", ly).attr("r", 3).attr("fill", i === 0 ? GREY : RED);
    else lg.append("path").attr("transform", `translate(${o.lx},${ly})`).attr("d", d3.symbol().type(d3.symbolDiamond2).size(60)).attr("fill", BLUE);
    lg.append("text").attr("x", o.lx + o.ltx).attr("y", ly).attr("dy", "0.36em").attr("font-size", 14.5).text(lab);
  });
}

drawPanel({
  id: "L", x0: 66.7, x1: 405, y0: 3.3, y1: 275, xd: [7.515, 11.455], yd: [-2.528, 1.926],
  yt: gasTicks, yf: fmt, grey: xgassGasDet, lim: xgassGasLim, red: samiGas, blue: subGas,
  ylx: 19, lx: 300, ly: 16.7, lsp: 22.5, ltx: 11.7,
  ylab: t => {
    t.append("tspan").text("log M");
    t.append("tspan").text("HI").attr("font-size", 12.5).attr("font-style", "italic").attr("dy", 3);
    t.append("tspan").text("/M").attr("dy", -3);
    t.append("tspan").text("\u2605").attr("font-size", 12).attr("dy", 3);
  }
});
drawPanel({
  id: "R", x0: 483.3, x1: 821.7, y0: 3.3, y1: 275, xd: [7.513, 11.468], yd: [-13, -8.375],
  yt: ssfrTicks, yf: fmtI, grey: xgassSSFR, lim: null, red: samiSSFR, blue: subSSFR,
  ylx: 441, lx: 508.3, ly: 215, lsp: 22, ltx: 9.4,
  ylab: t => {
    t.append("tspan").text("sSFR [yr");
    t.append("tspan").text("\u22121").attr("font-size", 12.5).attr("dy", -7);
    t.append("tspan").text("]").attr("dy", 7);
  }
});
</script></body></html>
